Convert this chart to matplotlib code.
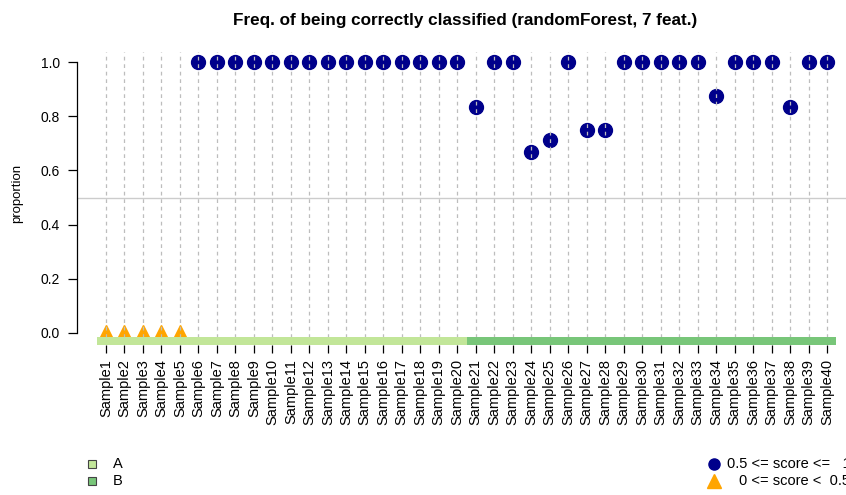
import matplotlib
matplotlib.use("Agg")
import matplotlib.pyplot as plt
from matplotlib.patches import Rectangle

plt.rcParams['font.family'] = ['Liberation Sans', 'DejaVu Sans']

# Data
samples = ["Sample%d" % i for i in range(1, 41)]
groups = ["A"] * 20 + ["B"] * 20
proportion = [0, 0, 0, 0, 0,
              1, 1, 1, 1, 1, 1, 1, 1, 1, 1, 1, 1, 1, 1, 1,
              0.833, 1, 1, 0.667, 0.714, 1, 0.75, 0.75, 1, 1,
              1, 1, 1, 0.875, 1, 1, 1, 0.833, 1, 1]
group_colors = {"A": "#C2E699", "B": "#78C679"}
score_labels = ["0.5 <= score <=   1", "0 <= score <  0.5"]

W, H = 846, 495
fig = plt.figure(figsize=(W / 100, H / 100), dpi=100)

# axes in pixel coordinates
left, right, top, bottom = 77, 846, 52, 345
ax = fig.add_axes([left / W, 1 - bottom / H, (right - left) / W, (bottom - top) / H])

x = list(range(1, len(samples) + 1))
step = (827 - 106) / 39.0
ax.set_xlim(1 - (106 - left) / step, 1 + (right - 106) / step)
ax.set_ylim(-(bottom - 333) / 271.0, 1 + (62 - top) / 271.0)

# reference line at 0.5
ax.axhline(0.5, color="#cccccc", lw=1, zorder=1)

# points
for xi, p in zip(x, proportion):
    if p >= 0.5:
        ax.plot(xi, p, "o", color="#00008B", ms=10, mec="#00008B", zorder=2)
    else:
        ax.plot(xi, p, "^", color="#FFA500", ms=12, mec="#FFA500", zorder=2)

# dashed vertical lines drawn over the points
for xi in x:
    ax.axvline(xi, color="#bdbdbd", lw=0.9, ls=(0, (3, 3)), zorder=3)

# group colour bar
for xi, g in zip(x, groups):
    ax.add_patch(Rectangle((xi - 0.5, -0.0443), 1, 0.0295, facecolor=group_colors[g],
                           edgecolor="none", zorder=4, clip_on=False))

for s in ["top", "right", "bottom"]:
    ax.spines[s].set_visible(False)
ax.spines["left"].set_bounds(0, 1)
ax.spines["left"].set_linewidth(0.9)

ax.set_yticks([0, 0.2, 0.4, 0.6, 0.8, 1.0])
ax.set_yticklabels(["0.0", "0.2", "0.4", "0.6", "0.8", "1.0"], fontsize=10)
ax.tick_params(axis="y", length=6.5, width=0.9, pad=6)
ax.set_xticks(x)
ax.set_xticklabels(samples, rotation=90, fontsize=10.5)
ax.tick_params(axis="x", length=6, width=0.9, pad=4)

fig.text(17 / W, 1 - 193 / H, "proportion", rotation=90, ha="center", va="center", fontsize=9.5)
fig.text(465 / W, 1 - 21 / H, "Freq. of being correctly classified (randomForest, 7 feat.)",
         ha="center", va="center", fontsize=12.3, fontweight="bold")

# legend for groups (bottom left)
for k, g in enumerate(["A", "B"]):
    yy = 464 + 17 * k
    fig.patches.append(Rectangle((88 / W, 1 - (yy + 4) / H), 8 / W, 8 / H,
                                 facecolor=group_colors[g], edgecolor="#444444", lw=0.8,
                                 transform=fig.transFigure))
    fig.text(113 / W, 1 - yy / H, g, ha="left", va="center", fontsize=10.5)

# legend for score (bottom right, clipped at edge)
fig.lines.append(plt.Line2D([714 / W], [1 - 464 / H], marker="o", color="#00008B", ms=8,
                            transform=fig.transFigure))
fig.lines.append(plt.Line2D([714 / W], [1 - 481 / H], marker="^", color="#FFA500", ms=10,
                            transform=fig.transFigure))
fig.text(727 / W, 1 - 464 / H, score_labels[0], ha="left", va="center", fontsize=10.5)
fig.text(739 / W, 1 - 481 / H, score_labels[1], ha="left", va="center", fontsize=10.5)

fig.savefig("out.png", dpi=100)
